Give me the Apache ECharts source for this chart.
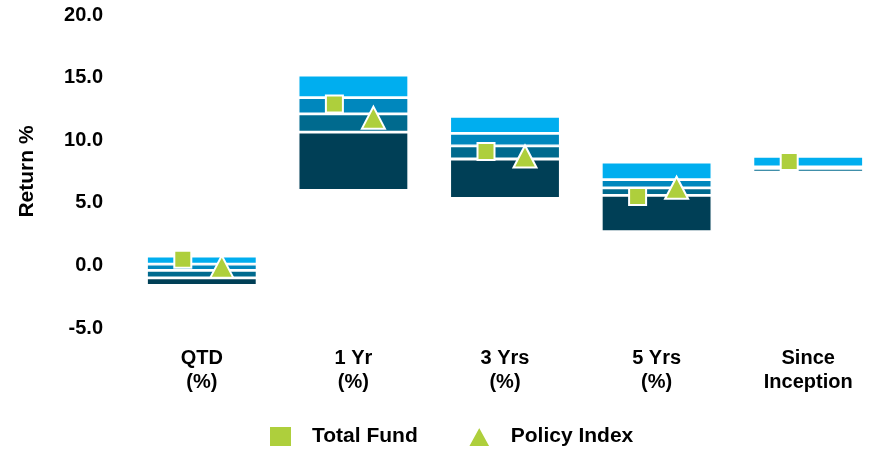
<!DOCTYPE html>
<html>
<head>
<meta charset="utf-8">
<script src="https://cdn.jsdelivr.net/npm/echarts@6/dist/echarts.min.js"></script>
<style>
  html, body { margin: 0; padding: 0; background: #fff; }
  #chart { width: 873px; height: 451px; }
</style>
</head>
<body>
<div id="chart"></div>
<script>
// periods on the x axis
const categories = ['QTD\n(%)', '1 Yr\n(%)', '3 Yrs\n(%)', '5 Yrs\n(%)', 'Since\nInception']

// universe percentiles (return %)
const p5 = [0.75, 15.2, 11.9, 8.25, 8.72]
const p25 = [0.1, 13.4, 10.55, 6.85, 7.86]
const median = [-0.4, 12.1, 9.55, 6.2, 7.76]
const p75 = [-1.0, 10.65, 8.5, 5.6, 7.44]
const p95 = [-1.6, 6.0, 5.35, 2.7, 7.44]

const totalFund = [0.5, 12.9, 9.1, 5.5, 8.3]
const policyIndex = [-0.1, 11.8, 8.7, 6.2, null]

const yTicks = { min: -5, max: 20, interval: 5 }

const font = 'Liberation Sans, Arial, sans-serif'
const green = '#aecf3c'

function diff(a, b) {
  return a.map((v, i) => +(v - b[i]).toFixed(3))
}

function band(name, data, color) {
  return {
    name: name,
    type: 'bar',
    stack: 'range',
    stackStrategy: 'all',
    barWidth: '73%',
    data: data,
    itemStyle: { color: color, borderColor: '#fff', borderWidth: name === 'base' ? 0 : 1.4 },
    emphasis: { disabled: true },
    silent: true
  }
}

const chart = echarts.init(document.getElementById('chart'))

chart.setOption({
  animation: false,
  grid: { left: 126, top: 15, width: 758, bottom: 123, outerBoundsMode: 'none', containLabel: false },
  legend: {
    data: ['Total Fund', 'Policy Index'],
    left: 263,
    bottom: -2,
    itemWidth: 23,
    itemHeight: 21,
    itemGap: 49,
    textStyle: { fontFamily: font, fontWeight: 'bold', fontSize: 21, color: '#000', padding: [0, 0, 0, 15] }
  },
  xAxis: {
    type: 'category',
    data: categories,
    axisLine: { show: false },
    axisTick: { show: false },
    axisLabel: {
      margin: 18,
      fontFamily: font,
      fontWeight: 'bold',
      fontSize: 20,
      lineHeight: 24,
      color: '#000'
    }
  },
  yAxis: {
    type: 'value',
    min: yTicks.min,
    max: yTicks.max,
    interval: yTicks.interval,
    name: 'Return %',
    nameLocation: 'middle',
    nameGap: 88,
    nameTextStyle: { fontFamily: font, fontWeight: 'bold', fontSize: 21, color: '#000' },
    axisLine: { show: false },
    axisTick: { show: false },
    splitLine: { show: false },
    axisLabel: {
      margin: 23,
      fontFamily: font,
      fontWeight: 'bold',
      fontSize: 20,
      color: '#000',
      formatter: v => v.toFixed(1)
    }
  },
  series: [
    band('base', p95, 'transparent'),
    band('p75-p95', diff(p75, p95), '#003f56'),
    band('med-p75', diff(median, p75), '#006a8e'),
    band('p25-med', diff(p25, median), '#0087bd'),
    band('p5-p25', diff(p5, p25), '#00aeef'),
    {
      name: 'Total Fund',
      type: 'scatter',
      data: totalFund,
      symbol: 'rect',
      symbolSize: 17,
      symbolOffset: [-19, 0],
      itemStyle: { color: green, opacity: 1, borderColor: '#fff', borderWidth: 2 },
      z: 5
    },
    {
      name: 'Policy Index',
      type: 'scatter',
      data: policyIndex,
      symbol: 'triangle',
      symbolSize: [23, 22],
      symbolOffset: [20, 0],
      itemStyle: { color: green, opacity: 1, borderColor: '#fff', borderWidth: 2 },
      z: 5
    }
  ]
})
</script>
</body>
</html>
